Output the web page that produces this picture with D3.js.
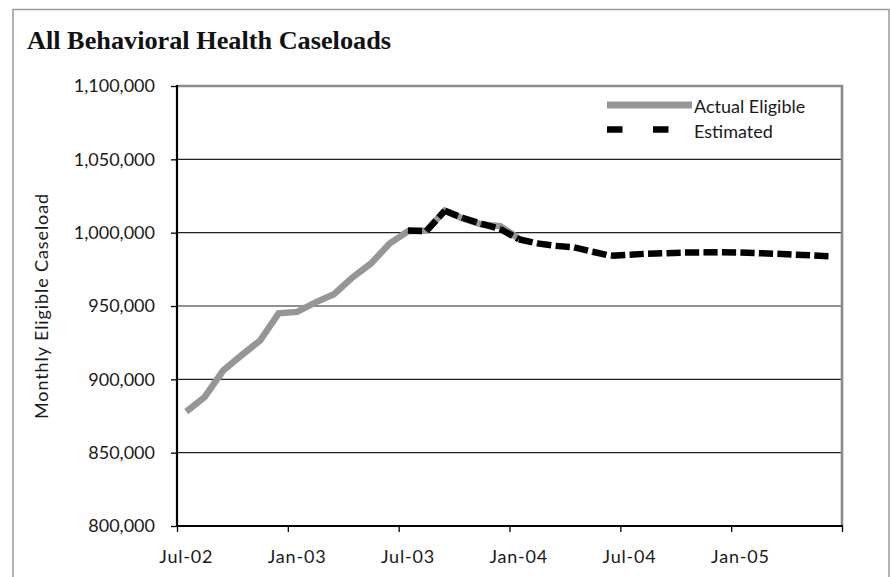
<!DOCTYPE html>
<html>
<head>
<meta charset="utf-8">
<script src="https://cdn.jsdelivr.net/npm/d3@7"></script>
<style>
  body { margin: 0; background: #fff; }
  svg { display: block; }
  .sans { font-family: Lato, "DejaVu Sans", sans-serif; fill: #1a1a1a; }
</style>
</head>
<body>
<svg id="chart" width="890" height="577"></svg>
<script>
// Monthly categories on the horizontal axis
const months = [
  "Jul-02","Aug-02","Sep-02","Oct-02","Nov-02","Dec-02",
  "Jan-03","Feb-03","Mar-03","Apr-03","May-03","Jun-03",
  "Jul-03","Aug-03","Sep-03","Oct-03","Nov-03","Dec-03",
  "Jan-04","Feb-04","Mar-04","Apr-04","May-04","Jun-04",
  "Jul-04","Aug-04","Sep-04","Oct-04","Nov-04","Dec-04",
  "Jan-05","Feb-05","Mar-05","Apr-05","May-05","Jun-05"
];

// Actual eligible caseload, Jul-02 through Jan-04
const actualEligible = [
  878000, 888000, 906000, 916500, 926500, 945000,
  946000, 952500, 958000, 969500, 979000, 992500,
  1001000, 1001500, 1015000, 1009500, 1005500, 1004500,
  996000
];

// Estimated caseload, Jul-03 through Jun-05
const estimatedFirstMonth = "Jul-03";
const estimated = [
  1001500, 1001000, 1015000, 1010000, 1006000, 1002500,
  995500, 992700, 991000, 990000, 987000, 984200,
  985000, 985700, 986000, 986400, 986600, 986600,
  986400, 986000, 985600, 985000, 984400, 983800
];

const yTicks = [800000, 850000, 900000, 950000, 1000000, 1050000, 1100000];
const xTickLabels = ["Jul-02","Jan-03","Jul-03","Jan-04","Jul-04","Jan-05"];
const seriesNames = ["Actual Eligible", "Estimated"];

const svg = d3.select("#chart");
const plot = { left: 177, right: 842, top: 86, bottom: 526 };

// Outer chart frame
svg.append("rect")
  .attr("x", 13).attr("y", 9.5)
  .attr("width", 876).attr("height", 620)
  .attr("fill", "#fff").attr("stroke", "#9a9a9a").attr("stroke-width", 1.5);

// Title
svg.append("text")
  .attr("x", 27).attr("y", 49)
  .attr("font-family", "'Liberation Serif', 'DejaVu Serif', serif")
  .attr("font-weight", "bold")
  .attr("font-size", 24.5)
  .attr("textLength", 364)
  .attr("lengthAdjust", "spacingAndGlyphs")
  .attr("fill", "#111")
  .text("All Behavioral Health Caseloads");

// Scales
const x = d3.scaleBand().domain(months).range([plot.left, plot.right]).paddingInner(0).paddingOuter(0);
const cx = m => x(m) + x.bandwidth() / 2;
const xEdge = d3.scaleLinear().domain([0, months.length]).range([plot.left, plot.right]);
const y = d3.scaleLinear().domain([800000, 1100000]).range([plot.bottom, plot.top]);

// Horizontal gridlines
svg.append("g")
  .selectAll("line")
  .data(yTicks.filter(v => v > 800000 && v < 1100000))
  .join("line")
  .attr("x1", plot.left).attr("x2", plot.right)
  .attr("y1", d => y(d)).attr("y2", d => y(d))
  .attr("stroke", "#222").attr("stroke-width", 1.2);

// Plot area border (top and right in grey)
svg.append("path")
  .attr("d", `M${plot.left},${plot.top}H${plot.right}V${plot.bottom}`)
  .attr("fill", "none").attr("stroke", "#8a8a8a").attr("stroke-width", 2.6);

// Y axis
const yAxis = svg.append("g")
  .attr("transform", `translate(${plot.left},0)`)
  .call(d3.axisLeft(y).tickValues(yTicks).tickFormat(d3.format(",")).tickSize(6).tickPadding(16));
yAxis.select(".domain").remove();
yAxis.selectAll(".tick line").attr("stroke", "#000").attr("stroke-width", 1.3);
yAxis.selectAll("text")
  .attr("font-size", 18)
  .attr("font-family", "Lato, 'DejaVu Sans', sans-serif")
  .attr("fill", "#1a1a1a");

// X axis tick marks at 6-month boundaries
const xTicks = svg.append("g")
  .attr("transform", `translate(0,${plot.bottom})`)
  .call(d3.axisBottom(xEdge).tickValues(d3.range(0, months.length + 1, 6)).tickFormat("").tickSize(6));
xTicks.select(".domain").remove();
xTicks.selectAll(".tick line").attr("stroke", "#000").attr("stroke-width", 1.3);

// X axis labels centred on their month
const xLabels = svg.append("g")
  .attr("transform", `translate(0,${plot.bottom})`)
  .call(d3.axisBottom(x).tickValues(xTickLabels).tickSize(0));
xLabels.select(".domain").remove();
xLabels.selectAll("text")
  .attr("y", 37).attr("dy", 0)
  .attr("font-size", 18)
  .attr("letter-spacing", 0.8)
  .attr("font-family", "Lato, 'DejaVu Sans', sans-serif")
  .attr("fill", "#1a1a1a");

// Axis lines (left and bottom in black)
svg.append("path")
  .attr("d", `M${plot.left},${plot.top - 1}V${plot.bottom}H${plot.right + 1}`)
  .attr("fill", "none").attr("stroke", "#000").attr("stroke-width", 2.2);

// Y axis title
svg.append("text")
  .attr("class", "sans")
  .attr("transform", `translate(48,${(plot.top + plot.bottom) / 2}) rotate(-90)`)
  .attr("text-anchor", "middle")
  .attr("font-size", 18)
  .attr("letter-spacing", 0.9)
  .text("Monthly Eligible Caseload");

// Actual series
const actualPts = actualEligible.map((v, i) => [cx(months[i]), y(v)]);
svg.append("path")
  .attr("d", d3.line()(actualPts))
  .attr("fill", "none")
  .attr("stroke", "#969696")
  .attr("stroke-width", 6.5)
  .attr("stroke-linejoin", "miter");

// Estimated series, dashes restart at every month
const estStart = months.indexOf(estimatedFirstMonth);
const estPts = estimated.map((v, i) => [cx(months[estStart + i]), y(v)]);
svg.append("g")
  .selectAll("line")
  .data(d3.pairs(estPts))
  .join("line")
  .attr("x1", d => d[0][0]).attr("y1", d => d[0][1])
  .attr("x2", d => d[1][0]).attr("y2", d => d[1][1])
  .attr("stroke", "#000")
  .attr("stroke-width", 6.5)
  .attr("stroke-dasharray", "14.2,4.3");

// Legend
const lg = svg.append("g");
lg.append("line")
  .attr("x1", 607).attr("x2", 692).attr("y1", 105).attr("y2", 105)
  .attr("stroke", "#969696").attr("stroke-width", 7);
lg.append("line")
  .attr("x1", 607).attr("x2", 692).attr("y1", 129.5).attr("y2", 129.5)
  .attr("stroke", "#000").attr("stroke-width", 6.5)
  .attr("stroke-dasharray", "15.5,30.5");
lg.selectAll("text")
  .data(seriesNames)
  .join("text")
  .attr("class", "sans")
  .attr("x", 694)
  .attr("y", (d, i) => 113 + i * 24.5)
  .attr("font-size", 18)
  .text(d => d);
</script>
</body>
</html>
